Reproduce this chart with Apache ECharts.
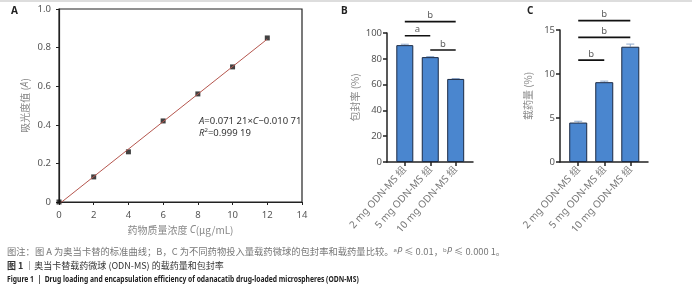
<!DOCTYPE html>
<html>
<head>
<meta charset="utf-8">
<script src="https://cdn.jsdelivr.net/npm/echarts@6/dist/echarts.min.js"></script>
<style>
html, body { margin: 0; padding: 0; background: #fff; }
#chart { width: 692px; height: 300px; }
</style>
</head>
<body>
<div id="chart"></div>
<script>
// 图 A 标准曲线
var concX = [0, 2, 4, 6, 8, 10, 12];
var absY = [0, 0.13, 0.26, 0.42, 0.56, 0.70, 0.85];
var fitX = [0, 12];
var fitY = [-0.011, 0.844];

// 图 B / C 柱状图
var groups = ['2 mg ODN-MS 组', '5 mg ODN-MS 组', '10 mg ODN-MS 组'];
var groupPos = [1, 2, 3];
var encapRate = [90.6, 81.3, 64.4];
var encapErr = [0.7, 0.4, 0.3];
var loadRate = [4.48, 9.07, 13.1];
var loadErr = [0.15, 0.12, 0.3];

// 显著性标记 [起, 止, 高度, 文字]
var sigB = [[1, 3, 108.8, 'b'], [1, 2, 97.9, 'a'], [2, 3, 86.8, 'b']];
var sigC = [[1, 3, 16.06, 'b'], [1, 3, 14.16, 'b'], [1, 2, 11.58, 'b']];

var myChart = echarts.init(document.getElementById('chart'));

var tickFont = { color: '#555', fontSize: 9.5, fontFamily: 'Noto Sans' };
var nameFont = { color: '#888', fontSize: 10, fontFamily: 'Noto Sans CJK SC' };
var axisBlack = { lineStyle: { color: '#222', width: 1.2 } };
var barBlue = '#4a86cf';

function barXAxis (idx) {
    return {
        gridIndex: idx, type: 'value', min: 0.3, max: 3.68,
        axisLine: { lineStyle: { color: '#222', width: 1.5 } },
        axisTick: { show: true, customValues: groupPos, length: 4, lineStyle: { color: '#222', width: 1.5 } },
        axisLabel: {
            show: true, customValues: groupPos, rotate: 48, margin: 6,
            color: '#777', fontSize: 10, fontFamily: 'Noto Sans',
            formatter: function (v) { return groups[Math.round(v) - 1]; }
        },
        splitLine: { show: false }
    };
}

function sigSeries (list, xi, yi) {
    var out = [];
    list.forEach(function (s) {
        out.push({
            type: 'line', xAxisIndex: xi, yAxisIndex: yi, clip: false, silent: true,
            symbol: 'none', lineStyle: { color: '#111', width: 1.6 },
            data: [[s[0], s[2]], [s[1], s[2]]]
        });
    });
    out.push({
        type: 'scatter', xAxisIndex: xi, yAxisIndex: yi, clip: false, silent: true,
        symbolSize: 0,
        label: { show: true, position: 'top', distance: 1, color: '#333', fontSize: 9.5, fontFamily: 'Noto Sans',
            formatter: function (p) { return p.data[2]; } },
        data: list.map(function (s) { return [(s[0] + s[1]) / 2, s[2], s[3]]; })
    });
    return out;
}

function errSeries (vals, errs, xi, yi) {
    return {
        type: 'custom', xAxisIndex: xi, yAxisIndex: yi, silent: true,
        data: vals.map(function (v, i) { return [groupPos[i], v, errs[i]]; }),
        renderItem: function (params, api) {
            var x = api.value(0), y = api.value(1), e = api.value(2);
            var top = api.coord([x, y + e]);
            var base = api.coord([x, y]);
            return {
                type: 'group',
                children: [
                    { type: 'line', shape: { x1: top[0], y1: top[1], x2: base[0], y2: base[1] }, style: { stroke: '#8fa9cc', lineWidth: 1 } },
                    { type: 'line', shape: { x1: top[0] - 4, y1: top[1], x2: top[0] + 4, y2: top[1] }, style: { stroke: '#8fa9cc', lineWidth: 1 } }
                ]
            };
        }
    };
}

var option = {
    animation: false,
    grid: [
        { left: 59, right: 390, top: 9, bottom: 98, show: true, borderColor: '#222', borderWidth: 1.2 },
        { left: 387, right: 219, top: 33, bottom: 138 },
        { left: 560, right: 44, top: 30, bottom: 138 }
    ],
    xAxis: [
        {
            gridIndex: 0, type: 'value', min: 0, max: 14, interval: 2,
            name: '药物质量浓度 {i|C}(μg/mL)', nameLocation: 'middle', nameGap: 22,
            nameTextStyle: Object.assign({}, nameFont, { rich: { i: { fontStyle: 'italic', color: '#888', fontSize: 10, fontFamily: 'Noto Sans' } } }),
            axisLine: axisBlack, axisTick: { length: 3, lineStyle: { color: '#222' } },
            axisLabel: tickFont, splitLine: { show: false }
        },
        barXAxis(1),
        barXAxis(2)
    ],
    yAxis: [
        {
            gridIndex: 0, type: 'value', min: 0, max: 1, interval: 0.2,
            name: '吸光度值 ({i|A})', nameLocation: 'middle', nameGap: 29, nameRotate: 90,
            nameTextStyle: Object.assign({}, nameFont, { rich: { i: { fontStyle: 'italic', color: '#888', fontSize: 10, fontFamily: 'Noto Sans' } } }),
            axisLine: axisBlack, axisTick: { length: 3, lineStyle: { color: '#222' } },
            axisLabel: Object.assign({}, tickFont, { formatter: function (v) { return v === 0 ? '0' : v.toFixed(1); } }),
            splitLine: { show: false }
        },
        {
            gridIndex: 1, type: 'value', min: 0, max: 100, interval: 20,
            name: '包封率 (%)', nameLocation: 'middle', nameGap: 27, nameRotate: 90, nameTextStyle: nameFont,
            axisLine: { show: true, lineStyle: { color: '#222', width: 1.5 } },
            axisTick: { show: true, length: 4, lineStyle: { color: '#222', width: 1.5 } },
            axisLabel: Object.assign({}, tickFont, { margin: 5 }), splitLine: { show: false }
        },
        {
            gridIndex: 2, type: 'value', min: 0, max: 15, interval: 5,
            name: '载药量 (%)', nameLocation: 'middle', nameGap: 27, nameRotate: 90, nameTextStyle: nameFont,
            axisLine: { show: true, lineStyle: { color: '#222', width: 1.5 } },
            axisTick: { show: true, length: 4, lineStyle: { color: '#222', width: 1.5 } },
            axisLabel: Object.assign({}, tickFont, { margin: 5 }), splitLine: { show: false }
        }
    ],
    graphic: [
        { type: 'text', left: 11, top: 6, style: { text: 'A', font: 'bold 10px "Noto Sans"', fill: '#222' } },
        { type: 'text', left: 341, top: 6, style: { text: 'B', font: 'bold 10px "Noto Sans"', fill: '#222' } },
        { type: 'text', left: 527, top: 6, style: { text: 'C', font: 'bold 10px "Noto Sans"', fill: '#222' } },
        { type: 'line', shape: { x1: 0, y1: 1, x2: 692, y2: 1 }, style: { stroke: '#bbb', lineWidth: 1 } },
        {
            type: 'text', left: 199, top: 115,
            style: {
                text: '{i|A}=0.071 21×{i|C}−0.010 71\n{i|R}{s|2}=0.999 19',
                font: '9.5px "Noto Sans"', fill: '#333', lineHeight: 12,
                rich: { i: { fontStyle: 'italic', fontSize: 9.5, fontFamily: 'Noto Sans', fill: '#333' },
                        s: { fontSize: 6, fontFamily: 'Noto Sans', verticalAlign: 'top', fill: '#333' } }
            }
        },
        {
            type: 'text', left: 7, top: 247,
            style: {
                text: '图注：图 A 为奥当卡替的标准曲线；B，C 为不同药物投入量载药微球的包封率和载药量比较。{s|a}{i|P} ≤ 0.01，{s|b}{i|P} ≤ 0.000 1。',
                font: '9.3px "Noto Sans CJK SC"', fill: '#777',
                rich: { i: { fontStyle: 'italic', fontSize: 9.3, fontFamily: 'Noto Sans', fill: '#777' },
                        s: { fontSize: 6, fontFamily: 'Noto Sans', fill: '#777', verticalAlign: 'top' } }
            }
        },
        {
            type: 'text', left: 7, top: 261,
            style: {
                text: '{b|图 1} ｜奥当卡替载药微球 (ODN-MS) 的载药量和包封率',
                font: '9px "Noto Sans CJK SC"', fill: '#333',
                rich: { b: { fontWeight: 'bold', fontSize: 9, fontFamily: 'Noto Sans CJK SC', fill: '#333' } }
            }
        },
        {
            type: 'text', x: 7, y: 275, scaleX: 0.75,
            style: {
                text: 'Figure 1  |  Drug loading and encapsulation efficiency of odanacatib drug-loaded microspheres (ODN-MS)',
                font: 'bold 9px "Noto Sans"', fill: '#222'
            }
        }
    ],
    series: [
        {
            type: 'line', xAxisIndex: 0, yAxisIndex: 0, symbol: 'none', silent: true,
            lineStyle: { color: '#b5564e', width: 1 },
            data: fitX.map(function (x, i) { return [x, fitY[i]]; })
        },
        {
            type: 'scatter', xAxisIndex: 0, yAxisIndex: 0, symbol: 'rect', symbolSize: 5,
            itemStyle: { color: '#111' },
            data: concX.map(function (x, i) { return [x, absY[i]]; })
        },
        {
            type: 'bar', xAxisIndex: 1, yAxisIndex: 1, barWidth: 17,
            itemStyle: { color: barBlue, borderColor: '#1b2a44', borderWidth: 1 },
            data: encapRate.map(function (v, i) { return [groupPos[i], v]; })
        },
        errSeries(encapRate, encapErr, 1, 1),
        {
            type: 'bar', xAxisIndex: 2, yAxisIndex: 2, barWidth: 18,
            itemStyle: { color: barBlue, borderColor: '#1b2a44', borderWidth: 1 },
            data: loadRate.map(function (v, i) { return [groupPos[i], v]; })
        },
        errSeries(loadRate, loadErr, 2, 2)
    ].concat(sigSeries(sigB, 1, 1)).concat(sigSeries(sigC, 2, 2))
};

myChart.setOption(option);
window.addEventListener('resize', function () { myChart.resize(); });
</script>
</body>
</html>
